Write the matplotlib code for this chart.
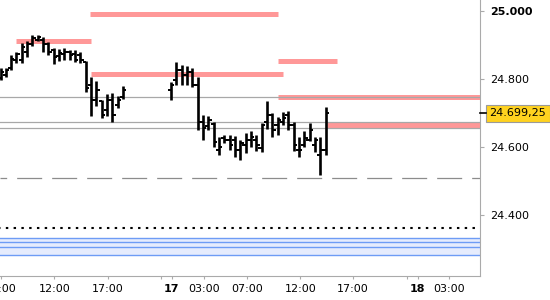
import matplotlib
matplotlib.use('Agg')
import matplotlib.pyplot as plt
import matplotlib.transforms as mtransforms

plt.rcParams['font.family'] = ['DejaVu Sans']
plt.rcParams['lines.scale_dashes'] = False

# ---------------- data (30-minute OHLC bars, x = half-hour slot index) ----------------
bar_slots = list(range(0, 24)) + list(range(32, 62))
opens = [24803, 24811, 24832, 24855, 24855, 24879, 24902, 24914, 24914, 24902,
         24885, 24867, 24873, 24879, 24873, 24870, 24850, 24782, 24738, 24735,
         24709, 24738, 24724, 24747,
         24768, 24797, 24826, 24811, 24820, 24782, 24674, 24662, 24668, 24592,
         24627, 24621, 24621, 24592, 24606, 24621, 24621, 24597, 24674, 24694,
         24665, 24674, 24694, 24665, 24592, 24606, 24621, 24606, 24577, 24592]
highs = [24832, 24832, 24870, 24879, 24905, 24911, 24929, 24929, 24923, 24908,
         24891, 24888, 24891, 24885, 24885, 24879, 24853, 24806, 24794, 24738,
         24756, 24759, 24750, 24779,
         24791, 24850, 24841, 24838, 24832, 24806, 24694, 24691, 24674, 24630,
         24635, 24635, 24633, 24621, 24641, 24647, 24635, 24671, 24735, 24700,
         24688, 24703, 24706, 24674, 24630, 24647, 24671, 24630, 24630, 24718]
lows = [24797, 24806, 24826, 24847, 24847, 24864, 24897, 24911, 24879, 24870,
        24844, 24853, 24855, 24855, 24850, 24847, 24762, 24691, 24721, 24685,
        24691, 24674, 24715, 24741,
        24738, 24782, 24782, 24782, 24776, 24650, 24621, 24650, 24600, 24577,
        24612, 24592, 24571, 24562, 24583, 24600, 24589, 24586, 24653, 24630,
        24635, 24665, 24650, 24589, 24571, 24600, 24618, 24586, 24518, 24577]
closes = [24820, 24826, 24858, 24873, 24894, 24902, 24920, 24923, 24902, 24879,
          24864, 24876, 24879, 24870, 24855, 24855, 24773, 24738, 24768, 24694,
          24738, 24694, 24738, 24768,
          24782, 24826, 24811, 24820, 24782, 24674, 24656, 24680, 24615, 24600,
          24621, 24606, 24592, 24612, 24621, 24630, 24606, 24665, 24694, 24650,
          24680, 24685, 24665, 24606, 24592, 24627, 24650, 24621, 24592, 24699.25]

gray_levels = [24747.8, 24673.6, 24655.1]
dashed_level = 24508.5
dotted_level = 24363.7
blue_levels = [24332.6, 24320.8, 24306.2, 24282.7]
zone_levels = [24990.4, 24910.6, 24815.3, 24853.1, 24748.4, 24665.7]
zone_starts = [16.8, 2.9, 17.0, 52.1, 52.1, 61.2]
zone_ends = [52.1, 17.0, 53.0, 63.1, 90.0, 90.0]
last_price = 24699.25
last_label = '24.699,25'

y_ticks = [25000, 24800, 24600, 24400]
y_tick_labels = ['25.000', '24.800', '24.600', '24.400']
x_ticks = [0.0, 10.1, 20.1, 30.05, 32.1, 38.2, 46.2, 56.25, 66.1, 76.2, 78.3, 84.2]
x_tick_labels = ['07:00', '12:00', '17:00', '', '17', '03:00', '07:00', '12:00',
                 '17:00', '', '18', '03:00']
bold_labels = ['17', '18', '25.000']

# ---------------- figure ----------------
fig = plt.figure(figsize=(5.5, 3.0), dpi=100)
ax = fig.add_axes([0, 24 / 300, 480 / 550, 276 / 300])
ax.set_xlim(-0.094, 89.96)
ax.set_ylim(24222.0, 25031.4)

salmon = '#ff9898'
grayc = '#a8a8a8'
bluec = '#6e9cf5'

# blue band
ax.axhspan(blue_levels[-1], blue_levels[0], color='#e6ecfd', lw=0, zorder=1)
for lv in blue_levels:
    ax.axhline(lv, color=bluec, lw=1.0, zorder=2)

# dotted and dashed lines
ax.axhline(dotted_level, color='black', lw=1.5, zorder=2,
           linestyle=(1.4, (1.75, 3.85)), dash_capstyle='butt')
ax.axhline(dashed_level, color='#8c8c8c', lw=0.9, zorder=2,
           linestyle=(13.2, (18.0, 7.2)), dash_capstyle='butt')

# salmon zones
for lv, s, e in zip(zone_levels, zone_starts, zone_ends):
    ax.hlines(lv, s, e, color=salmon, lw=3.6, zorder=3, capstyle='butt')

# gray level lines
for lv in gray_levels:
    ax.axhline(lv, color=grayc, lw=0.9, zorder=4)

# OHLC bars
ax.vlines(bar_slots, lows, highs, color='black', lw=1.9, zorder=6)
tl = 0.6
ax.hlines(opens, [s - tl for s in bar_slots], bar_slots, color='black', lw=1.4, zorder=6)
ax.hlines(closes, bar_slots, [s + tl for s in bar_slots], color='black', lw=1.4, zorder=6)

# axes styling
for sp in ['top', 'left']:
    ax.spines[sp].set_visible(False)
for sp in ['bottom', 'right']:
    ax.spines[sp].set_color('#aaaaaa')
    ax.spines[sp].set_linewidth(0.8)

ax.yaxis.tick_right()
ax.set_yticks(y_ticks)
ax.set_yticklabels(y_tick_labels)
ax.set_xticks(x_ticks)
ax.set_xticklabels(x_tick_labels)
ax.tick_params(axis='y', which='both', length=3, width=0.8, color='#aaaaaa',
               labelsize=8, pad=4, labelcolor='black')
ax.tick_params(axis='x', which='both', length=2.5, width=0.8, color='#aaaaaa',
               labelsize=8, pad=3, labelcolor='black')
for lab in ax.get_xticklabels() + ax.get_yticklabels():
    if lab.get_text() in bold_labels:
        lab.set_fontweight('bold')

# last price marker and label
trans = mtransforms.blended_transform_factory(ax.transAxes, ax.transData)
ax.plot([1.0, 1.0 + 6 / 480], [last_price, last_price], color='black', lw=1.2,
        transform=trans, clip_on=False, zorder=7)
ax.annotate(last_label, xy=(1.0, last_price), xycoords=trans,
            xytext=(6.9, 0), textcoords='offset points', ha='left', va='center',
            fontsize=8, color='black', annotation_clip=False,
            bbox=dict(boxstyle='square,pad=0.3', fc='#ffd21f', ec='#9a9a9a', lw=0.8))

fig.savefig('out.png', dpi=100)
